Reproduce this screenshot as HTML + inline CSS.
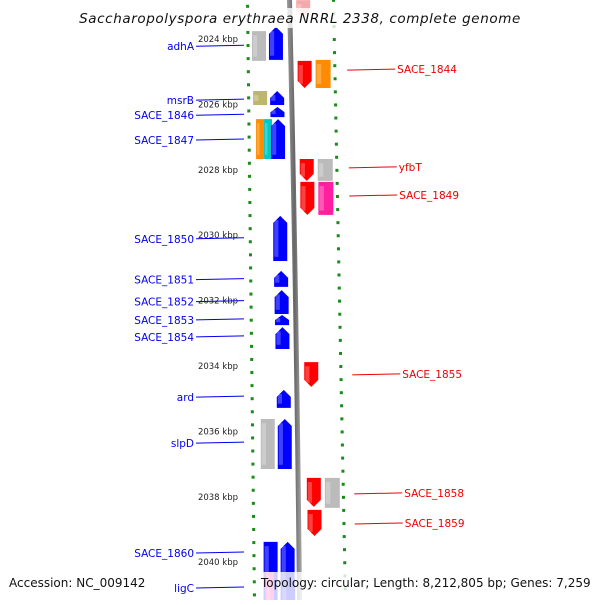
<!DOCTYPE html>
<html><head><meta charset="utf-8"><style>
body{margin:0;background:#fff;font-family:"Liberation Sans",sans-serif}
svg text{font-family:"DejaVu Sans","Liberation Sans",sans-serif}
</style></head><body>
<svg id="map" width="600" height="600" viewBox="0 0 600 600" xmlns="http://www.w3.org/2000/svg">
<defs>
<linearGradient id="bb" x1="0" x2="1"><stop offset="0" stop-color="#999"/><stop offset="0.5" stop-color="#666"/><stop offset="1" stop-color="#aaa"/></linearGradient>
</defs>
<g id="layer"></g>
</svg>
<script>
// feature data (kbp)
const featNames = ["adhA-gray","adhA","msrB-khaki","msrB","SACE_1846","SACE_1847-orange","SACE_1847-cyan","SACE_1847","SACE_1850","SACE_1851","SACE_1852","SACE_1853","SACE_1854","ard","slpD-gray","slpD","SACE_1860-rect","SACE_1860","top-red","SACE_1844","SACE_1844-orange","yfbT","yfbT-gray","SACE_1849","SACE_1849-pink","SACE_1855","SACE_1858","SACE_1858-gray","SACE_1859","ligC-pink","ligC-magenta","ligC-blue"];
const featStart = [2023.76,2023.63,2025.59,2025.59,2026.08,2026.45,2026.45,2026.45,2029.41,2031.09,2031.68,2032.44,2032.81,2034.73,2035.62,2035.62,2039.38,2039.38,2022.81,2024.67,2024.64,2027.67,2027.67,2028.37,2028.37,2033.88,2037.42,2037.42,2038.40,2040.3,2041.3,2040.3];
const featEnd   = [2024.67,2024.64,2026.02,2026.02,2026.39,2027.67,2027.67,2027.67,2030.79,2031.58,2032.41,2032.75,2033.48,2035.28,2037.15,2037.15,2041.3,2041.3,2023.36,2025.50,2025.50,2028.34,2028.34,2029.38,2029.38,2034.64,2038.31,2038.34,2039.20,2041.3,2041.9,2041.9];
const featStrand= [0,1,0,1,1,0,0,1,1,1,1,1,1,1,0,1,0,1,-1,-1,0,-1,0,-1,0,-1,-1,0,-1,0,0,1];
const featTrack = ["g","b","g","b","b","o","c","b","b","b","b","b","b","b","g","b","g","b","r","r","R","r","R","r","R","r","r","R","r","o","o","b"];
const featColor = ["#bbbbbb","#0000ff","#bdb76b","#0000ff","#0000ff","#ff8c00","#00c8c8","#0000ff","#0000ff","#0000ff","#0000ff","#0000ff","#0000ff","#0000ff","#bbbbbb","#0000ff","#0000ff","#0000ff","#f4aaaa","#ff0000","#ff8c00","#ff0000","#bbbbbb","#ff0000","#ff1fa0","#ff0000","#ff0000","#bbbbbb","#ff0000","#ff1fa0","#ff1fa0","#0000ff"];
// labels
const leftLabels = ["adhA","msrB","SACE_1846","SACE_1847","SACE_1850","SACE_1851","SACE_1852","SACE_1853","SACE_1854","ard","slpD","SACE_1860","ligC"];
const leftLabelKbp = [2024.22,2025.87,2026.33,2027.09,2030.11,2031.36,2032.03,2032.59,2033.11,2034.95,2036.36,2039.72,2040.79];
const rightLabels = ["SACE_1844","yfbT","SACE_1849","SACE_1855","SACE_1858","SACE_1859"];
const rightLabelKbp = [2024.92,2027.91,2028.77,2034.24,2037.88,2038.80];
const tickLabels = ["2024 kbp","2026 kbp","2028 kbp","2030 kbp","2032 kbp","2034 kbp","2036 kbp","2038 kbp","2040 kbp"];
const tickKbp = [2024,2026,2028,2030,2032,2034,2036,2038,2040];

const NS="http://www.w3.org/2000/svg";
const L=document.getElementById('layer');
function y(k){return 39+(k-2024)*32.7;}
const trackBase={g:[251,14],o:[253,8],c:[261,8],b:[268,14],r:[296,14],R:[314,15]};
function mk(tag,attrs){const e=document.createElementNS(NS,tag);for(const a in attrs)e.setAttribute(a,attrs[a]);L.appendChild(e);return e;}

// backbone
let bb=mk('path',{d:`M287,0 Q294,300 297,600 L302,600 Q299,300 292,0 Z`,fill:'url(#bb)'});



// tick columns
for(let yy=6;yy<600;yy+=13.08){
  const lx=247+7*yy/600, rx=333+12*yy/600;
  const kb=2024+(yy-39)/32.7;
  const major=Math.abs(Math.round(kb/2)*2-kb)<0.1;
  let d=mk('rect',{x:major?lx-4:lx-1,y:yy-1.2,width:major?8:3,height:major?2.5:3,fill:'#1a8a1a'});
  
  
}
for(let yy=0;yy<600;yy+=13.08){
  const rx=333+12*yy/600;
  const kb=2024+(yy+6-39)/32.7;
  const major=Math.abs(Math.round(kb/2)*2-kb)<0.1;
  let d=mk('rect',{x:major?rx-4:rx-1,y:yy-1.2,width:major?8:3,height:major?2.5:3,fill:'#1a8a1a'});
  
  
}
// tick labels
tickLabels.forEach((t,i)=>{
  let e=mk('text',{x:238,y:y(tickKbp[i])+3,'text-anchor':'end','font-size':'8.5',fill:'#222'});
  e.textContent=t;
  
  
});

// features
featNames.forEach((n,i)=>{
  const y1=y(featStart[i]),y2=y(featEnd[i]);
  const tb=trackBase[featTrack[i]];
  const x=tb[0]+0.022*(y1+y2)/2, w=tb[1];
  let d;
  const h=Math.min(7,(y2-y1)/2);
  if(featStrand[i]===1){
    d=`M${x},${y2} L${x},${y1+h} L${x+w/2},${y1} L${x+w},${y1+h} L${x+w},${y2} Z`;
  }else if(featStrand[i]===-1){
    d=`M${x},${y1} L${x+w},${y1} L${x+w},${y2-h} L${x+w/2},${y2} L${x},${y2-h} Z`;
  }else{
    d=`M${x},${y1} L${x+w},${y1} L${x+w},${y2} L${x},${y2} Z`;
  }
  let p=mk('path',{d:d,fill:featColor[i]});
  
  
  let s=mk('rect',{x:x+1,y:y1+h*0.6,width:w*0.3,height:Math.max(0,y2-y1-h*1.2),fill:'#fff',opacity:0.25});
  
  
});

// labels
leftLabels.forEach((t,i)=>{
  const yy=y(leftLabelKbp[i]);
  let e=mk('text',{x:194,y:yy+4,'text-anchor':'end','font-size':'10.5',fill:'#0000ee'});
  e.textContent=t;
  
  
  let l=mk('line',{x1:196,y1:yy,x2:244,y2:yy-1,stroke:'#0000ee','stroke-width':1});
  
  
});
rightLabels.forEach((t,i)=>{
  const yy=y(rightLabelKbp[i]);
  const sx=346+10*yy/600;
  let l=mk('line',{x1:sx,y1:yy+1,x2:sx+48,y2:yy,stroke:'#ee0000','stroke-width':1});
  
  
  let e=mk('text',{x:sx+50,y:yy+4,'font-size':'10.5',fill:'#ee0000'});
  e.textContent=t;
  
  
});

// title & legends
let tb=mk('rect',{x:94,y:8,width:412,height:20,fill:'#fff',opacity:0.8});


let ti=mk('text',{x:300,y:23,'text-anchor':'middle','font-size':'13.5','font-style':'italic',fill:'#111','letter-spacing':'0.6'});
ti.textContent='Saccharopolyspora erythraea NRRL 2338, complete genome';


let lb=mk('rect',{x:258,y:572,width:342,height:28,fill:'#fff',opacity:0.8});


let ac=mk('text',{x:9,y:587,'font-size':'12',fill:'#111'});
ac.textContent='Accession: NC_009142';


let tp=mk('text',{x:261,y:587,'font-size':'12',fill:'#111'});
tp.textContent='Topology: circular; Length: 8,212,805 bp; Genes: 7,259';


</script>
</body></html>
